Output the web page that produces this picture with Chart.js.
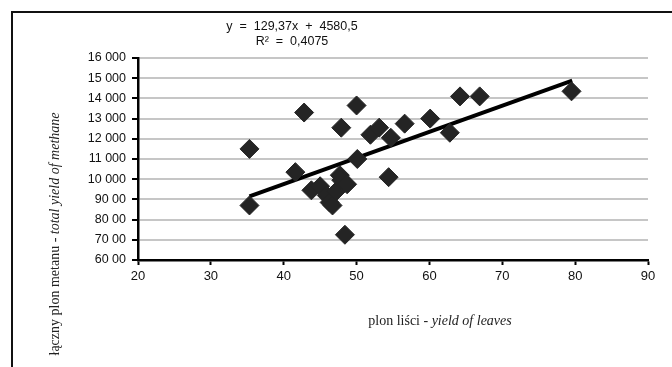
<!DOCTYPE html>
<html>
<head>
<meta charset="utf-8">
<script src="https://cdn.jsdelivr.net/npm/chart.js@4/dist/chart.umd.min.js"></script>
<style>
  html, body { margin: 0; padding: 0; background: #fff; }
  #wrap { width: 672px; height: 367px; }
</style>
</head>
<body>
<div id="wrap"><canvas id="chart" width="672" height="367"></canvas></div>
<script>
// yield of leaves (x) vs total yield of methane (y)
const leafYield = [35.3, 35.3, 41.6, 42.8, 43.8, 45.0, 45.9, 46.3, 46.7, 47.2, 47.7, 47.9, 48.4, 48.7, 47.9, 50.0, 50.1, 51.9, 53.1, 54.7, 54.4, 56.6, 60.1, 62.8, 64.2, 66.9, 79.5];
const methaneYield = [11500, 8700, 10350, 13300, 9450, 9650, 9200, 8850, 8700, 9400, 10200, 9950, 7250, 9750, 12550, 13650, 11000, 12200, 12550, 12050, 10100, 12750, 13000, 12300, 14100, 14100, 14350];

// trend line end points, as drawn
const trendX = [35.3, 79.6];
const trendY = [9150, 14880];

const equationLines = ['y  =  129,37x  +  4580,5', 'R²  =  0,4075'];

const xTicks = [20, 30, 40, 50, 60, 70, 80, 90];
const yTicks = [6000, 7000, 8000, 9000, 10000, 11000, 12000, 13000, 14000, 15000, 16000];
const yTickLabels = ['60 00', '70 00', '80 00', '90 00', '10 000', '11 000', '12 000', '13 000', '14 000', '15 000', '16 000'];

const sans = '"Liberation Sans", Arial, sans-serif';
const serif = '"Liberation Serif", "Times New Roman", serif';

const points = leafYield.map((x, i) => ({ x: x, y: methaneYield[i] }));
const trend = trendX.map((x, i) => ({ x: x, y: trendY[i] }));

// frame, equation and the mixed-style axis titles
const decorations = {
    id: 'decorations',
    afterDraw(chart) {
        const ctx = chart.ctx;
        ctx.save();

        ctx.strokeStyle = '#111';
        ctx.lineWidth = 2;
        ctx.beginPath();
        ctx.moveTo(12, 380);
        ctx.lineTo(12, 12);
        ctx.lineTo(690, 12);
        ctx.stroke();

        ctx.fillStyle = '#111';
        ctx.font = '12.5px ' + sans;
        ctx.textAlign = 'center';
        ctx.textBaseline = 'middle';
        ctx.fillText(equationLines[0], 292, 27);
        ctx.fillText(equationLines[1], 292, 42);

        function mixed(parts, cx, cy) {
            let total = 0;
            parts.forEach(p => { ctx.font = p.font; total += ctx.measureText(p.text).width; });
            let x = cx - total / 2;
            ctx.textAlign = 'left';
            parts.forEach(p => {
                ctx.font = p.font;
                ctx.fillText(p.text, x, cy);
                x += ctx.measureText(p.text).width;
            });
        }

        ctx.fillStyle = '#222';
        mixed([
            { text: 'plon liści - ', font: '14px ' + serif },
            { text: 'yield of leaves', font: 'italic 14px ' + serif }
        ], 440, 321);

        ctx.translate(55, 234);
        ctx.rotate(-Math.PI / 2);
        mixed([
            { text: 'łączny plon metanu - ', font: '14px ' + serif },
            { text: 'total yield of methane', font: 'italic 14px ' + serif }
        ], 0, 0);

        ctx.restore();
    }
};

new Chart(document.getElementById('chart'), {
    type: 'scatter',
    data: {
        datasets: [
            {
                label: 'dane',
                data: points,
                pointStyle: 'rectRot',
                pointRadius: 9.5,
                pointHoverRadius: 9.5,
                backgroundColor: '#242424',
                borderColor: '#242424',
                borderWidth: 1
            },
            {
                label: 'trend',
                data: trend,
                showLine: true,
                pointRadius: 0,
                borderColor: '#000',
                borderWidth: 4
            }
        ]
    },
    options: {
        responsive: false,
        animation: false,
        layout: {
            padding: { left: 0, top: 58, right: 24, bottom: 0 }
        },
        plugins: {
            legend: { display: false },
            tooltip: { enabled: false }
        },
        scales: {
            x: {
                type: 'linear',
                min: 20,
                max: 90,
                afterBuildTicks: scale => { scale.ticks = xTicks.map(v => ({ value: v })); },
                afterFit: scale => { scale.height = 107; },
                grid: {
                    drawOnChartArea: false,
                    drawTicks: true,
                    tickLength: 5,
                    tickColor: '#000',
                    tickWidth: 2
                },
                border: { display: true, color: '#000', width: 2.5 },
                ticks: {
                    padding: 4,
                    color: '#111',
                    font: { family: sans, size: 13 }
                }
            },
            y: {
                min: 6000,
                max: 16000,
                afterBuildTicks: scale => { scale.ticks = yTicks.map(v => ({ value: v })); },
                afterFit: scale => { scale.width = 138; },
                grid: {
                    color: ctx => (ctx.tick && ctx.tick.value === 6000) ? 'rgba(0,0,0,0)' : '#c6c6c6',
                    lineWidth: 2,
                    drawTicks: true,
                    tickLength: 6,
                    tickColor: '#000',
                    tickWidth: 2
                },
                border: { display: true, color: '#000', width: 2.5 },
                ticks: {
                    padding: 6,
                    color: '#111',
                    font: { family: sans, size: 12.5 },
                    callback: function (value) {
                        const i = yTicks.indexOf(value);
                        return i >= 0 ? yTickLabels[i] : '';
                    }
                }
            }
        }
    },
    plugins: [decorations]
});
</script>
</body>
</html>
